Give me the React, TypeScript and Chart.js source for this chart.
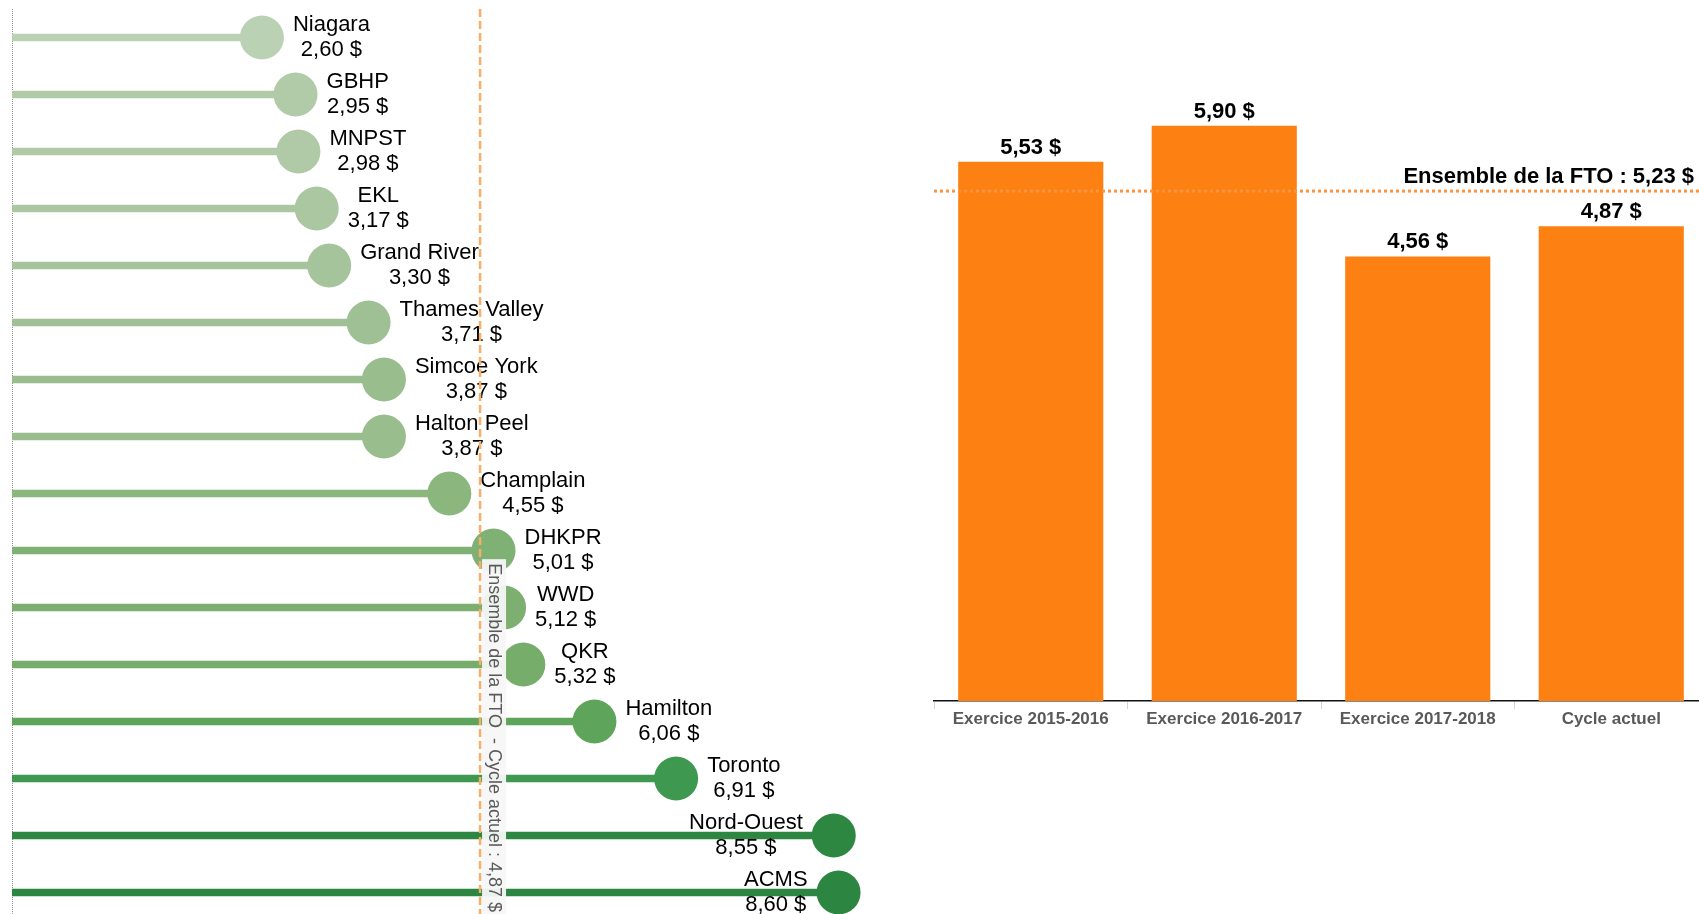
import React, { useEffect, useRef } from 'react';
import { Chart, registerables } from 'chart.js';

Chart.register(...registerables);

// ---------- Data ----------
const regions = [
  'Niagara', 'GBHP', 'MNPST', 'EKL', 'Grand River', 'Thames Valley', 'Simcoe York', 'Halton Peel',
  'Champlain', 'DHKPR', 'WWD', 'QKR', 'Hamilton', 'Toronto', 'Nord-Ouest', 'ACMS',
];
const regionCosts = [2.60, 2.95, 2.98, 3.17, 3.30, 3.71, 3.87, 3.87, 4.55, 5.01, 5.12, 5.32, 6.06, 6.91, 8.55, 8.60];
const regionColors = [
  '#bbd1b4', '#b1caa8', '#b0c9a6', '#abc7a1', '#a6c49c', '#9fc094', '#99bd8d', '#99bd8d',
  '#8bb77f', '#80b174', '#7daf70', '#77ad6a', '#5fa45b', '#3f9850', '#2d8741', '#2c8641',
];
const currentCycleAverage = 4.87;
const currentCycleLabel = 'Ensemble de la FTO  - Cycle actuel : ';

const periods = ['Exercice 2015-2016', 'Exercice 2016-2017', 'Exercice 2017-2018', 'Cycle actuel'];
const periodCosts = [5.53, 5.90, 4.56, 4.87];
const ftoAverage = 5.23;
const ftoAverageLabel = 'Ensemble de la FTO : ';

const FONT = "'Liberation Sans', Arial, Helvetica, sans-serif";
const fmt = (v: number) => v.toFixed(2).replace('.', ',') + ' $';

function LollipopChart() {
  const ref = useRef<HTMLCanvasElement>(null);
  useEffect(() => {
    if (!ref.current) return;
    const lollipopPlugin = {
      id: 'lollipopDecor',
      beforeDatasetsDraw(chart: any) {
        const { ctx, chartArea } = chart;
        const x0 = chart.scales.x.getPixelForValue(0);
        ctx.save();
        ctx.strokeStyle = '#8f8f8f';
        ctx.lineWidth = 1;
        ctx.setLineDash([1, 1]);
        ctx.beginPath();
        ctx.moveTo(Math.round(x0) + 0.5, chartArea.top);
        ctx.lineTo(Math.round(x0) + 0.5, chartArea.bottom);
        ctx.stroke();
        ctx.restore();
      },
      afterDatasetsDraw(chart: any) {
        const { ctx, chartArea } = chart;
        const meta = chart.getDatasetMeta(1);
        ctx.save();
        ctx.font = `22px ${FONT}`;
        ctx.fillStyle = '#000';
        ctx.textAlign = 'center';
        ctx.textBaseline = 'alphabetic';
        meta.data.forEach((pt: any, i: number) => {
          const name = regions[i];
          const val = fmt(regionCosts[i]);
          const w = Math.max(ctx.measureText(name).width, ctx.measureText(val).width);
          const cx = regionCosts[i] > 8 ? pt.x - 31 - w / 2 : pt.x + 31 + w / 2;
          ctx.fillText(name, cx, pt.y - 7);
          ctx.fillText(val, cx, pt.y + 18);
        });

        // reference line for the current cycle
        const xr = chart.scales.x.getPixelForValue(currentCycleAverage);
        const vText = currentCycleLabel + fmt(currentCycleAverage);
        ctx.font = `18px ${FONT}`;
        const tw = ctx.measureText(vText).width;
        const textEnd = chartArea.bottom - 9;
        const textStart = textEnd - tw;
        ctx.fillStyle = 'rgba(246,247,246,0.95)';
        ctx.fillRect(xr + 2, textStart - 4, 24, chartArea.bottom - textStart + 4);

        ctx.strokeStyle = '#f6ae68';
        ctx.lineWidth = 2.5;
        ctx.setLineDash([8, 4]);
        ctx.beginPath();
        ctx.moveTo(xr, chartArea.top);
        ctx.lineTo(xr, chartArea.bottom);
        ctx.stroke();
        ctx.setLineDash([]);

        ctx.translate(xr + 14, textStart);
        ctx.rotate(Math.PI / 2);
        ctx.fillStyle = '#5a5a5a';
        ctx.textAlign = 'left';
        ctx.textBaseline = 'middle';
        ctx.fillText(vText, 0, 0);
        ctx.restore();
      },
    };

    const chart = new Chart(ref.current, {
      type: 'bar',
      data: {
        labels: regions,
        datasets: [
          {
            type: 'bar',
            data: regionCosts,
            backgroundColor: regionColors,
            barThickness: 7,
            indexAxis: 'y',
            order: 2,
          } as any,
          {
            type: 'line',
            data: regionCosts,
            showLine: false,
            pointRadius: 22,
            pointHoverRadius: 22,
            pointBackgroundColor: regionColors,
            pointBorderWidth: 0,
            indexAxis: 'y',
            order: 1,
            clip: false,
          } as any,
        ],
      },
      options: {
        indexAxis: 'y',
        responsive: false,
        animation: false,
        events: [],
        layout: { autoPadding: false, padding: { left: 12, right: 23, top: 9, bottom: 9 } },
        scales: {
          x: { type: 'linear', min: 0, max: 9, display: false },
          y: { type: 'category', display: false, offset: true },
        },
        plugins: { legend: { display: false }, tooltip: { enabled: false } },
      } as any,
      plugins: [lollipopPlugin],
    });
    return () => chart.destroy();
  }, []);
  return (
    <canvas
      ref={ref}
      width={900}
      height={930}
      style={{ position: 'absolute', left: 0, top: 0, width: 900, height: 930 }}
    />
  );
}

function BarChart() {
  const ref = useRef<HTMLCanvasElement>(null);
  useEffect(() => {
    if (!ref.current) return;
    const barPlugin = {
      id: 'barDecor',
      afterDatasetsDraw(chart: any) {
        const { ctx, chartArea } = chart;
        const meta = chart.getDatasetMeta(0);
        ctx.save();
        ctx.font = `bold 22px ${FONT}`;
        ctx.fillStyle = '#000';
        ctx.textAlign = 'center';
        ctx.textBaseline = 'alphabetic';
        meta.data.forEach((bar: any, i: number) => {
          ctx.fillText(fmt(periodCosts[i]), bar.x, bar.y - 8);
        });
        const y = chart.scales.y.getPixelForValue(ftoAverage);
        ctx.strokeStyle = '#fb9441';
        ctx.lineWidth = 3;
        ctx.setLineDash([3, 3]);
        ctx.beginPath();
        ctx.moveTo(chartArea.left, y);
        ctx.lineTo(chartArea.right, y);
        ctx.stroke();
        ctx.setLineDash([]);
        ctx.textAlign = 'right';
        ctx.fillText(ftoAverageLabel + fmt(ftoAverage), chartArea.right - 14, y - 8.5);
        ctx.restore();
      },
    };
    const chart = new Chart(ref.current, {
      type: 'bar',
      data: {
        labels: periods,
        datasets: [
          {
            data: periodCosts,
            backgroundColor: '#fd8012',
            categoryPercentage: 1,
            barPercentage: 0.75,
          },
        ],
      },
      options: {
        responsive: false,
        animation: false,
        events: [],
        layout: { autoPadding: false, padding: { left: 34, right: 22, top: 18.5, bottom: 0 } },
        scales: {
          x: {
            grid: {
              display: true,
              drawOnChartArea: false,
              drawTicks: true,
              tickLength: 8,
              color: '#d4d4d4',
              offset: true,
            },
            border: { display: true, color: '#111', width: 1.5, dash: [1, 1] },
            ticks: {
              color: '#595959',
              font: { size: 17, weight: 'bold', family: FONT },
              padding: 0,
              maxRotation: 0,
              autoSkip: false,
            },
            afterFit: (s: any) => {
              s.height = 40;
            },
          },
          y: { display: false, min: 0, max: 7 },
        },
        plugins: { legend: { display: false }, tooltip: { enabled: false } },
      } as any,
      plugins: [barPlugin],
    });
    return () => chart.destroy();
  }, []);
  return (
    <canvas
      ref={ref}
      width={830}
      height={741}
      style={{ position: 'absolute', left: 900, top: 0, width: 830, height: 741 }}
    />
  );
}

export default function App() {
  return (
    <div
      style={{
        position: 'fixed',
        left: 0,
        top: 0,
        width: 1699,
        height: 914,
        overflow: 'hidden',
        background: '#fff',
      }}
    >
      <LollipopChart />
      <BarChart />
    </div>
  );
}
